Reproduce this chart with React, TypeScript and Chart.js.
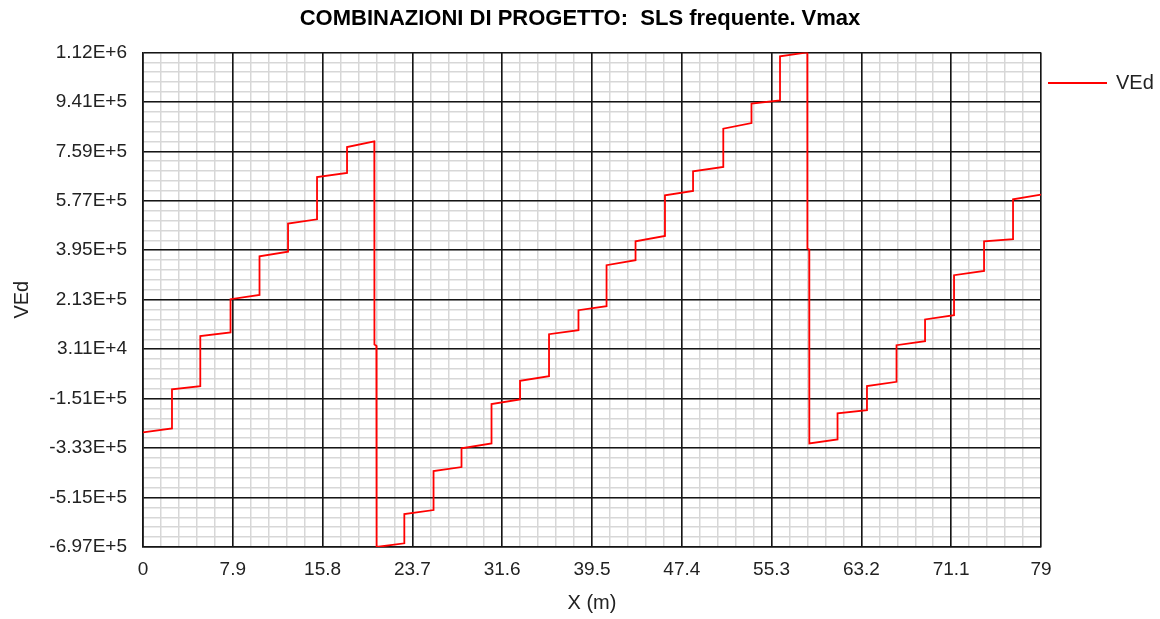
import React, { useEffect, useRef } from 'react';
import { Chart, registerables } from 'chart.js';

Chart.register(...registerables);

const CHART_TITLE = 'COMBINAZIONI DI PROGETTO:  SLS frequente. Vmax';
const SERIES_NAME = 'VEd';
const X_TITLE = 'X (m)';
const Y_TITLE = 'VEd';

const xTickLabels = ['0', '7.9', '15.8', '23.7', '31.6', '39.5', '47.4', '55.3', '63.2', '71.1', '79'];
const yTickLabels = ['-6.97E+5', '-5.15E+5', '-3.33E+5', '-1.51E+5', '3.11E+4', '2.13E+5', '3.95E+5', '5.77E+5', '7.59E+5', '9.41E+5', '1.12E+6'];
const xMin = 0;
const xMax = 79;
const yMin = -696900;
const yMax = 1123100;
const minorPerMajor = 5;

// positions along the beam (m)
const xPositions = [
  0, 2.55, 2.55, 5.04, 5.04, 7.7, 7.7, 10.25, 10.25, 12.76, 12.76, 15.31, 15.31, 17.95, 17.95, 20.35,
  20.36, 20.53,
  20.55, 22.99, 22.99, 25.56, 25.56, 28.02, 28.02, 30.66, 30.66, 33.17, 33.17, 35.72, 35.72, 38.31,
  38.31, 40.78, 40.78, 43.33, 43.33, 45.92, 45.92, 48.39, 48.39, 51.05, 51.05, 53.53, 53.53, 56.04,
  56.04, 58.44,
  58.45, 58.61,
  58.62, 61.1, 61.1, 63.69, 63.69, 66.29, 66.29, 68.8, 68.8, 71.35, 71.35, 73.99, 73.99, 76.54, 76.54, 79,
];

// shear VEd
const vEdValues = [
  -275000, -260500, -117000, -105000, 79000, 92500, 215000, 230500, 373000, 390000, 493000, 509000, 664500, 679500, 775000, 796000,
  48000, 44000,
  -696900, -683300, -575600, -560900, -417500, -402800, -334000, -315600, -171100, -153900, -85500, -68200, 86200, 101000,
  174500, 189200, 340000, 358300, 428200, 447700, 597300, 613100, 685600, 701400, 842600, 863200, 934500, 946600,
  1108400, 1123100,
  401300, 398000,
  -315600, -300900, -205300, -193200, -105000, -89100, 45800, 60500, 140300, 156100, 303200, 319000, 428200, 435500, 582600, 599900,
];

const FONT = "'Liberation Sans', Arial, sans-serif";

export default function App() {
  const ref = useRef<HTMLCanvasElement>(null);

  useEffect(() => {
    document.body.style.margin = '0';
    const canvas = ref.current;
    if (!canvas) return;

    const nMajor = xTickLabels.length - 1;
    const xMajorVals = xTickLabels.map((_, i) => xMin + (i * (xMax - xMin)) / nMajor);
    const yMajorVals = yTickLabels.map((_, i) => yMin + (i * (yMax - yMin)) / nMajor);
    const nMinor = nMajor * minorPerMajor;
    const xMinorVals = Array.from({ length: nMinor + 1 }, (_, i) => xMin + (i * (xMax - xMin)) / nMinor);
    const yMinorVals = Array.from({ length: nMinor + 1 }, (_, i) => yMin + (i * (yMax - yMin)) / nMinor);

    const points = xPositions.map((x, i) => ({ x, y: vEdValues[i] }));

    const legendPlugin = {
      id: 'customLegend',
      afterDraw(chart: any) {
        const ctx = chart.ctx;
        const area = chart.chartArea;
        const y = 83;
        ctx.save();
        ctx.strokeStyle = 'rgb(255,0,0)';
        ctx.lineWidth = 2;
        ctx.beginPath();
        ctx.moveTo(area.right + 7, y);
        ctx.lineTo(area.right + 66, y);
        ctx.stroke();
        ctx.fillStyle = '#222';
        ctx.font = `20px ${FONT}`;
        ctx.textBaseline = 'middle';
        ctx.textAlign = 'left';
        ctx.fillText(SERIES_NAME, area.right + 75, y);
        ctx.restore();
      },
    };

    const chart = new Chart(canvas, {
      type: 'line',
      data: {
        datasets: [
          {
            label: SERIES_NAME,
            data: points,
            borderColor: 'rgb(255,0,0)',
            borderWidth: 1.8,
            pointRadius: 0,
            tension: 0,
            fill: false,
            xAxisID: 'x',
            yAxisID: 'y',
          },
        ],
      },
      options: {
        responsive: false,
        devicePixelRatio: 1,
        animation: false,
        layout: { padding: 0 },
        plugins: {
          legend: { display: false },
          tooltip: { enabled: false },
          title: {
            display: true,
            text: CHART_TITLE,
            color: '#000',
            font: { family: FONT, size: 22, weight: 'bold' },
            padding: { top: 6, bottom: 20 },
          },
        },
        scales: {
          legendSpace: {
            type: 'linear',
            position: 'right',
            display: true,
            afterFit: (s: any) => { s.width = 119; },
            ticks: { display: false },
            border: { display: false },
            grid: { display: false },
          },
          xMinor: {
            type: 'linear',
            position: 'bottom',
            min: xMin,
            max: xMax,
            afterBuildTicks: (s: any) => { s.ticks = xMinorVals.map((v) => ({ value: v })); },
            afterFit: (s: any) => { s.height = 0; },
            ticks: { display: false },
            border: { display: false },
            grid: { color: '#d7d7d7', lineWidth: 1.5, drawTicks: false, z: -2 },
          },
          yMinor: {
            type: 'linear',
            position: 'left',
            min: yMin,
            max: yMax,
            afterBuildTicks: (s: any) => { s.ticks = yMinorVals.map((v) => ({ value: v })); },
            afterFit: (s: any) => { s.width = 0; },
            ticks: { display: false },
            border: { display: false },
            grid: { color: '#d7d7d7', lineWidth: 1.5, drawTicks: false, z: -2 },
          },
          x: {
            type: 'linear',
            position: 'bottom',
            min: xMin,
            max: xMax,
            afterBuildTicks: (s: any) => { s.ticks = xMajorVals.map((v) => ({ value: v })); },
            afterFit: (s: any) => { s.height = 72; },
            ticks: {
              autoSkip: false,
              maxRotation: 0,
              padding: 11.6,
              color: '#222',
              font: { family: FONT, size: 19 },
              callback: (_v: any, i: number) => xTickLabels[i],
            },
            grid: { color: '#151515', lineWidth: 1.6, drawTicks: false, z: -1 },
            border: { display: true, color: '#151515', width: 1.6 },
            title: {
              display: true,
              text: X_TITLE,
              color: '#222',
              font: { family: FONT, size: 20 },
              padding: { top: 0, bottom: 4 },
            },
          },
          y: {
            type: 'linear',
            position: 'left',
            min: yMin,
            max: yMax,
            afterBuildTicks: (s: any) => { s.ticks = yMajorVals.map((v) => ({ value: v })); },
            afterFit: (s: any) => { s.width = 143; },
            ticks: {
              autoSkip: false,
              padding: 16,
              color: '#222',
              font: { family: FONT, size: 19 },
              callback: (_v: any, i: number) => yTickLabels[i],
            },
            grid: { color: '#151515', lineWidth: 1.6, drawTicks: false, z: -1 },
            border: { display: true, color: '#151515', width: 1.6 },
            title: {
              display: true,
              text: Y_TITLE,
              color: '#222',
              font: { family: FONT, size: 20 },
              padding: { top: 10, bottom: 0 },
            },
          },
        },
      },
      plugins: [legendPlugin],
    } as any);

    return () => chart.destroy();
  }, []);

  return (
    <div style={{ position: 'fixed', left: 0, top: 0, width: 1160, height: 619, background: '#fff' }}>
      <canvas ref={ref} width={1160} height={619} style={{ display: 'block', width: 1160, height: 619 }} />
    </div>
  );
}
